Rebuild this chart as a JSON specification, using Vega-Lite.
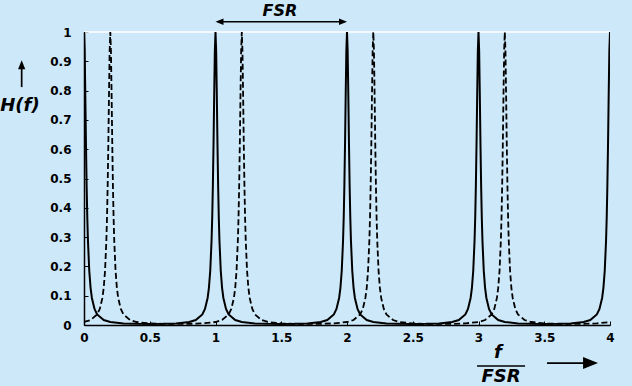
{
  "$schema": "https://vega.github.io/schema/vega-lite/v6.json",
  "autosize": "none",
  "width": 526,
  "height": 293,
  "padding": {"left": 84, "top": 32, "right": 22, "bottom": 61},
  "background": "#cde8f9",
  "config": {
    "view": {"stroke": null},
    "axis": {"domainColor": "black", "domainWidth": 1.5, "tickColor": "black", "tickWidth": 1, "tickSize": -4, "grid": false, "labelFont": "DejaVu Sans", "labelFontWeight": "bold", "labelFontSize": 12, "labelColor": "black", "labelFlush": false, "labelOverlap": false}
  },
  "datasets": {
    "solid": [
      {"x":0,"y":1},{"x":0.005,"y":0.935},{"x":0.01,"y":0.784},{"x":0.015,"y":0.617},{"x":0.02,"y":0.475},{"x":0.025,"y":0.367},{"x":0.03,"y":0.288},{"x":0.04,"y":0.185},{"x":0.05,"y":0.127},{"x":0.06,"y":0.0923},{"x":0.08,"y":0.0546},{"x":0.1,"y":0.0361},{"x":0.15,"y":0.017},{"x":0.2,"y":0.0102},{"x":0.3,"y":0.0054},{"x":0.4,"y":0.0039},{"x":0.5,"y":0.0036},{"x":0.6,"y":0.0039},{"x":0.7,"y":0.0054},{"x":0.8,"y":0.0102},{"x":0.85,"y":0.017},{"x":0.9,"y":0.0361},{"x":0.92,"y":0.0546},{"x":0.94,"y":0.0923},{"x":0.95,"y":0.127},{"x":0.96,"y":0.185},{"x":0.97,"y":0.288},{"x":0.975,"y":0.367},{"x":0.98,"y":0.475},{"x":0.985,"y":0.617},{"x":0.99,"y":0.784},{"x":0.995,"y":0.935},
      {"x":1,"y":1},{"x":1.005,"y":0.935},{"x":1.01,"y":0.784},{"x":1.015,"y":0.617},{"x":1.02,"y":0.475},{"x":1.025,"y":0.367},{"x":1.03,"y":0.288},{"x":1.04,"y":0.185},{"x":1.05,"y":0.127},{"x":1.06,"y":0.0923},{"x":1.08,"y":0.0546},{"x":1.1,"y":0.0361},{"x":1.15,"y":0.017},{"x":1.2,"y":0.0102},{"x":1.3,"y":0.0054},{"x":1.4,"y":0.0039},{"x":1.5,"y":0.0036},{"x":1.6,"y":0.0039},{"x":1.7,"y":0.0054},{"x":1.8,"y":0.0102},{"x":1.85,"y":0.017},{"x":1.9,"y":0.0361},{"x":1.92,"y":0.0546},{"x":1.94,"y":0.0923},{"x":1.95,"y":0.127},{"x":1.96,"y":0.185},{"x":1.97,"y":0.288},{"x":1.975,"y":0.367},{"x":1.98,"y":0.475},{"x":1.985,"y":0.617},{"x":1.99,"y":0.784},{"x":1.995,"y":0.935},
      {"x":2,"y":1},{"x":2.005,"y":0.935},{"x":2.01,"y":0.784},{"x":2.015,"y":0.617},{"x":2.02,"y":0.475},{"x":2.025,"y":0.367},{"x":2.03,"y":0.288},{"x":2.04,"y":0.185},{"x":2.05,"y":0.127},{"x":2.06,"y":0.0923},{"x":2.08,"y":0.0546},{"x":2.1,"y":0.0361},{"x":2.15,"y":0.017},{"x":2.2,"y":0.0102},{"x":2.3,"y":0.0054},{"x":2.4,"y":0.0039},{"x":2.5,"y":0.0036},{"x":2.6,"y":0.0039},{"x":2.7,"y":0.0054},{"x":2.8,"y":0.0102},{"x":2.85,"y":0.017},{"x":2.9,"y":0.0361},{"x":2.92,"y":0.0546},{"x":2.94,"y":0.0923},{"x":2.95,"y":0.127},{"x":2.96,"y":0.185},{"x":2.97,"y":0.288},{"x":2.975,"y":0.367},{"x":2.98,"y":0.475},{"x":2.985,"y":0.617},{"x":2.99,"y":0.784},{"x":2.995,"y":0.935},
      {"x":3,"y":1},{"x":3.005,"y":0.935},{"x":3.01,"y":0.784},{"x":3.015,"y":0.617},{"x":3.02,"y":0.475},{"x":3.025,"y":0.367},{"x":3.03,"y":0.288},{"x":3.04,"y":0.185},{"x":3.05,"y":0.127},{"x":3.06,"y":0.0923},{"x":3.08,"y":0.0546},{"x":3.1,"y":0.0361},{"x":3.15,"y":0.017},{"x":3.2,"y":0.0102},{"x":3.3,"y":0.0054},{"x":3.4,"y":0.0039},{"x":3.5,"y":0.0036},{"x":3.6,"y":0.0039},{"x":3.7,"y":0.0054},{"x":3.8,"y":0.0102},{"x":3.85,"y":0.017},{"x":3.9,"y":0.0361},{"x":3.92,"y":0.0546},{"x":3.94,"y":0.0923},{"x":3.95,"y":0.127},{"x":3.96,"y":0.185},{"x":3.97,"y":0.288},{"x":3.975,"y":0.367},{"x":3.98,"y":0.475},{"x":3.985,"y":0.617},{"x":3.99,"y":0.784},{"x":3.995,"y":0.935},
      {"x":4,"y":1}
    ],
    "dashed": [
      {"x":0,"y":0.0102},{"x":0.05,"y":0.017},{"x":0.1,"y":0.0361},{"x":0.12,"y":0.0546},{"x":0.14,"y":0.0923},{"x":0.15,"y":0.127},{"x":0.16,"y":0.185},{"x":0.17,"y":0.288},{"x":0.175,"y":0.367},{"x":0.18,"y":0.475},{"x":0.185,"y":0.617},{"x":0.19,"y":0.784},{"x":0.195,"y":0.935},
      {"x":0.2,"y":1},{"x":0.205,"y":0.935},{"x":0.21,"y":0.784},{"x":0.215,"y":0.617},{"x":0.22,"y":0.475},{"x":0.225,"y":0.367},{"x":0.23,"y":0.288},{"x":0.24,"y":0.185},{"x":0.25,"y":0.127},{"x":0.26,"y":0.0923},{"x":0.28,"y":0.0546},{"x":0.3,"y":0.0361},{"x":0.35,"y":0.017},{"x":0.4,"y":0.0102},{"x":0.5,"y":0.0054},{"x":0.6,"y":0.0039},{"x":0.7,"y":0.0036},{"x":0.8,"y":0.0039},{"x":0.9,"y":0.0054},{"x":1.0,"y":0.0102},{"x":1.05,"y":0.017},{"x":1.1,"y":0.0361},{"x":1.12,"y":0.0546},{"x":1.14,"y":0.0923},{"x":1.15,"y":0.127},{"x":1.16,"y":0.185},{"x":1.17,"y":0.288},{"x":1.175,"y":0.367},{"x":1.18,"y":0.475},{"x":1.185,"y":0.617},{"x":1.19,"y":0.784},{"x":1.195,"y":0.935},
      {"x":1.2,"y":1},{"x":1.205,"y":0.935},{"x":1.21,"y":0.784},{"x":1.215,"y":0.617},{"x":1.22,"y":0.475},{"x":1.225,"y":0.367},{"x":1.23,"y":0.288},{"x":1.24,"y":0.185},{"x":1.25,"y":0.127},{"x":1.26,"y":0.0923},{"x":1.28,"y":0.0546},{"x":1.3,"y":0.0361},{"x":1.35,"y":0.017},{"x":1.4,"y":0.0102},{"x":1.5,"y":0.0054},{"x":1.6,"y":0.0039},{"x":1.7,"y":0.0036},{"x":1.8,"y":0.0039},{"x":1.9,"y":0.0054},{"x":2.0,"y":0.0102},{"x":2.05,"y":0.017},{"x":2.1,"y":0.0361},{"x":2.12,"y":0.0546},{"x":2.14,"y":0.0923},{"x":2.15,"y":0.127},{"x":2.16,"y":0.185},{"x":2.17,"y":0.288},{"x":2.175,"y":0.367},{"x":2.18,"y":0.475},{"x":2.185,"y":0.617},{"x":2.19,"y":0.784},{"x":2.195,"y":0.935},
      {"x":2.2,"y":1},{"x":2.205,"y":0.935},{"x":2.21,"y":0.784},{"x":2.215,"y":0.617},{"x":2.22,"y":0.475},{"x":2.225,"y":0.367},{"x":2.23,"y":0.288},{"x":2.24,"y":0.185},{"x":2.25,"y":0.127},{"x":2.26,"y":0.0923},{"x":2.28,"y":0.0546},{"x":2.3,"y":0.0361},{"x":2.35,"y":0.017},{"x":2.4,"y":0.0102},{"x":2.5,"y":0.0054},{"x":2.6,"y":0.0039},{"x":2.7,"y":0.0036},{"x":2.8,"y":0.0039},{"x":2.9,"y":0.0054},{"x":3.0,"y":0.0102},{"x":3.05,"y":0.017},{"x":3.1,"y":0.0361},{"x":3.12,"y":0.0546},{"x":3.14,"y":0.0923},{"x":3.15,"y":0.127},{"x":3.16,"y":0.185},{"x":3.17,"y":0.288},{"x":3.175,"y":0.367},{"x":3.18,"y":0.475},{"x":3.185,"y":0.617},{"x":3.19,"y":0.784},{"x":3.195,"y":0.935},
      {"x":3.2,"y":1},{"x":3.205,"y":0.935},{"x":3.21,"y":0.784},{"x":3.215,"y":0.617},{"x":3.22,"y":0.475},{"x":3.225,"y":0.367},{"x":3.23,"y":0.288},{"x":3.24,"y":0.185},{"x":3.25,"y":0.127},{"x":3.26,"y":0.0923},{"x":3.28,"y":0.0546},{"x":3.3,"y":0.0361},{"x":3.35,"y":0.017},{"x":3.4,"y":0.0102},{"x":3.5,"y":0.0054},{"x":3.6,"y":0.0039},{"x":3.7,"y":0.0036},{"x":3.8,"y":0.0039},{"x":3.9,"y":0.0054},{"x":4.0,"y":0.0102}
    ],
    "border": [{"x":0,"x2":4,"y":1,"y2":1}],
    "topLabel": [{"t":"FSR","x":1.49,"y":1.056}],
    "labels": [
      {"t":"H(f)","x":-0.487,"y":0.73},
      {"t":"f","x":3.148,"y":-0.113},
      {"t":"FSR","x":3.171,"y":-0.195}
    ],
    "lines": [
      {"x":1.02,"x2":1.98,"y":1.035,"y2":1.035},
      {"x":3.521,"x2":3.85,"y":-0.13,"y2":-0.13},
      {"x":-0.474,"x2":-0.474,"y":0.812,"y2":0.885},
      {"x":2.989,"x2":3.354,"y":-0.14,"y2":-0.14}
    ],
    "headsLeft": [{"x":1,"y":1.035}],
    "headsRight": [{"x":2,"y":1.035}],
    "headsBig": [{"x":3.909,"y":-0.13}],
    "headsUp": [{"x":-0.474,"y":0.904}]
  },
  "encoding": {
    "x": {"field": "x", "type": "quantitative", "scale": {"domain": [0, 4], "nice": false, "zero": false},
          "axis": {"title": null, "values": [0,0.5,1,1.5,2,2.5,3,3.5,4], "format": "~g", "labelPadding": 11}},
    "y": {"field": "y", "type": "quantitative", "scale": {"domain": [0, 1], "nice": false, "zero": false},
          "axis": {"title": null, "values": [0,0.1,0.2,0.3,0.4,0.5,0.6,0.7,0.8,0.9,1], "format": "~g", "labelPadding": 17}}
  },
  "layer": [
    {
      "data": {"name": "border"},
      "mark": {"type": "rule", "color": "white", "strokeWidth": 1.5},
      "encoding": {"x2": {"field": "x2"}, "y2": {"field": "y2"}}
    },
    {
      "data": {"name": "solid"},
      "mark": {"type": "line", "color": "black", "strokeWidth": 2, "clip": true}
    },
    {
      "data": {"name": "dashed"},
      "mark": {"type": "line", "color": "black", "strokeWidth": 1.8, "strokeDash": [6, 3], "clip": true}
    },
    {
      "data": {"name": "lines"},
      "mark": {"type": "rule", "color": "black", "strokeWidth": 1.7},
      "encoding": {"x2": {"field": "x2"}, "y2": {"field": "y2"}}
    },
    {
      "data": {"name": "headsLeft"},
      "mark": {"type": "point", "shape": "M0,0 L1,-0.4 L1,0.4 Z", "size": 256, "filled": true, "color": "black", "opacity": 1}
    },
    {
      "data": {"name": "headsRight"},
      "mark": {"type": "point", "shape": "M0,0 L-1,-0.4 L-1,0.4 Z", "size": 256, "filled": true, "color": "black", "opacity": 1}
    },
    {
      "data": {"name": "headsBig"},
      "mark": {"type": "point", "shape": "M0,0 L-1,-0.4 L-1,0.4 Z", "size": 900, "filled": true, "color": "black", "opacity": 1}
    },
    {
      "data": {"name": "headsUp"},
      "mark": {"type": "point", "shape": "M0,0 L-0.4,1 L0.4,1 Z", "size": 324, "filled": true, "color": "black", "opacity": 1}
    },
    {
      "data": {"name": "topLabel"},
      "mark": {"type": "text", "font": "DejaVu Sans", "fontStyle": "italic", "fontWeight": "bold", "fontSize": 16, "color": "black", "align": "center", "baseline": "alphabetic"},
      "encoding": {"text": {"field": "t"}}
    },
    {
      "data": {"name": "labels"},
      "mark": {"type": "text", "font": "DejaVu Sans", "fontStyle": "italic", "fontWeight": "bold", "fontSize": 18, "color": "black", "align": "center", "baseline": "alphabetic"},
      "encoding": {"text": {"field": "t"}}
    }
  ]
}
